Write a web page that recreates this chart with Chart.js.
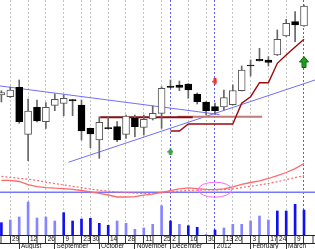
<!DOCTYPE html>
<html>
<head>
<meta charset="utf-8">
<script src="https://cdn.jsdelivr.net/npm/chart.js@4/dist/chart.umd.min.js"></script>
<style>
  html, body { margin: 0; padding: 0; background: #fff; }
</style>
</head>
<body>
<canvas id="chart" width="315" height="249"></canvas>
<script>
// weekly bars (Friday dates), Jul 22 2011 .. Mar 16 2012
const weeks = ['2011-07-22','2011-07-29','2011-08-05','2011-08-12','2011-08-19','2011-08-26','2011-09-02',
  '2011-09-09','2011-09-16','2011-09-23','2011-09-30','2011-10-07','2011-10-14','2011-10-21','2011-10-28',
  '2011-11-04','2011-11-11','2011-11-18','2011-11-25','2011-12-02','2011-12-09','2011-12-16','2011-12-23',
  '2011-12-30','2012-01-06','2012-01-13','2012-01-20','2012-01-27','2012-02-03','2012-02-10','2012-02-17',
  '2012-02-24','2012-03-02','2012-03-09','2012-03-16'];

const open  = [10.5, 10.33, 11.27, 6.57, 9.27, 7.83, 9.47, 9.67, 10.03, 9.5, 7.17, 6.0, 7.2, 7.33, 6.57, 8.17, 7.27, 8.1,
  8.67, 11.4, 11.5, 11.6, 10.6, 9.8, 9.33, 9.3, 9.53, 10.93, 13.47, 14.07, 14.0, 14.5, 16.4, 17.83, 17.4];
const high  = [10.93, 11.3, 12.0, 10.1, 10.0, 9.73, 10.6, 10.5, 10.05, 10.0, 7.2, 8.33, 8.33, 7.83, 8.5, 8.5, 8.5, 9.4,
  11.33, 12.0, 11.9, 11.65, 10.7, 9.85, 9.7, 11.0, 11.5, 13.4, 14.0, 15.17, 14.33, 17.0, 18.07, 18.83, 19.5];
const low   = [9.8, 10.25, 7.67, 3.93, 7.8, 7.17, 8.93, 8.43, 8.43, 6.0, 5.23, 4.17, 7.1, 5.83, 6.17, 6.33, 6.5, 8.0,
  7.17, 11.2, 10.93, 10.17, 9.6, 8.5, 8.55, 9.0, 9.5, 10.9, 12.4, 13.9, 13.4, 14.45, 16.35, 15.83, 17.35];
const close = [10.73, 11.0, 7.83, 8.9, 7.9, 9.27, 10.07, 10.17, 9.9, 6.9, 6.6, 7.77, 7.13, 6.0, 8.4, 7.33, 8.07, 8.67,
  11.17, 11.27, 11.27, 11.0, 9.83, 8.93, 8.93, 10.25, 10.95, 13.0, 13.4, 13.9, 13.77, 16.07, 17.67, 17.5, 19.4];

// volume (millions) and highlighted weeks
const volume = [1.23, 1.5, 1.8, 3.3, 1.7, 1.8, 1.4, 2.23, 1.4, 1.6, 1.67, 1.17, 0.97, 1.4, 1.17, 0.57, 0.7, 1.07,
  2.93, 1.4, 1.07, 0.93, 0.77, 0.05, 0.5, 0.7, 1.07, 1.07, 1.4, 1.9, 1.5, 2.4, 2.4, 3.07, 2.5];
const volHighlight = [1,0,0,0,0,0,0,1,1,1,1,1,1,0,0,0,0,0,0,1,0,1,1,0,1,0,0,0,0,0,0,1,1,1,1];

// lower oscillator: fast and slow averages
const oscFast = [12.0, 11.9, 10.8, 7.7, 5.6, 4.7, 4.1, 3.7, 2.9, 1.8, 0.4, -1.1, -2.7, -4.7, -4.7, -4.4, -2.9, -1.8,
  0.0, 1.7, 3.5, 4.4, 3.6, 2.9, 2.7, 3.4, 5.4, 7.9, 9.8, 11.4, 13.8, 16.6, 19.8, 23.7, 28.8];
const oscSlow = [15.9, 14.9, 14.0, 13.1, 11.9, 10.1, 8.7, 7.4, 6.0, 4.6, 3.3, 2.1, 1.2, 0.3, -0.3, -0.8, -1.1, -1.3,
  -0.4, 0.4, 1.2, 1.8, 2.2, 2.3, 2.3, 2.7, 3.3, 4.7, 6.1, 7.3, 8.8, 10.6, 12.7, 14.7, 16.6];
const oscLevel = 0;

// trailing stop (starts at week 19)
const stopLevel = [null, null, null, null, null, null, null, null, null, null, null, null, null, null, null, null,
  null, null, null, 6.9, 6.9, 7.6, 7.6, 7.6, 7.6, 7.6, 7.6, 9.67, 10.33, 11.73, 11.73, 13.67, 14.5, 15.3, 16.07];

// drawn trend lines: [week, price] end points
const trendDown = [[-0.2, 11.41], [24.5, 8.55]];
const trendUp = [[7.52, 3.77], [35.24, 12.0]];
const support = [[11.1, 8.27], [21.5, 8.27]];
const supportLate = [[19.8, 8.33], [29.3, 8.33]];

// signal arrows
const arrowWeek  = [19, 24, 34];
const arrowPrice = [4.83, 11.83, 13.8];
const arrowKind  = ['buy', 'sell', 'bigBuy'];

// ring mark on oscillator
const ringWeek = 24, ringValue = 2.6, ringHalfWeeks = 1.88, ringHalfValue = 7.5;

// axis labels (one slot per week tick, including one past the last bar)
const dayLabels = ['', '29', '', '12', '', '26', '', '9', '', '23', '30', '', '14', '', '28', '', '11', '', '25', '2',
  '', '16', '', '30', '', '13', '20', '', '3', '', '17', '24', '', '9', '', ''];
const monthLabels = ['', '', 'August', '', '', '', 'September', '', '', '', '', 'October', '', '', '', 'November', '',
  '', '', 'December', '', '', '', '', '2012', '', '', '', 'February', '', '', '', 'March', '', '', ''];
const gridWeeks = [1, 3, 5, 7, 9, 10, 12, 14, 16, 18, 21, 23, 26, 28, 30, 32];
const markerWeeks = [19, 24, 34];

const X_MIN = -0.157, X_MAX = 35.236;
const FONT = { family: '"Liberation Sans", Arial, sans-serif', size: 6.5 };
const weekTicks = dayLabels.map((_, i) => i);

function arrowIcon(w, h, fill, edge, down) {
  const c = document.createElement('canvas');
  c.width = w; c.height = h;
  const g = c.getContext('2d');
  if (down) { g.translate(0, h); g.scale(1, -1); }
  const head = Math.round(h * 0.5), s = Math.max(1, Math.round(w * 0.22));
  g.beginPath();
  g.moveTo(w / 2, 0.5);
  g.lineTo(w - 0.5, head);
  g.lineTo(w / 2 + s, head);
  g.lineTo(w / 2 + s, h - 0.5);
  g.lineTo(w / 2 - s, h - 0.5);
  g.lineTo(w / 2 - s, head);
  g.lineTo(0.5, head);
  g.closePath();
  g.fillStyle = fill;
  g.fill();
  g.strokeStyle = edge;
  g.lineWidth = 1;
  g.stroke();
  return c;
}
const icons = {
  buy: arrowIcon(6, 7, '#3cb043', '#2a8a2a', false),
  sell: arrowIcon(5, 7, '#ff4040', '#e02020', true),
  bigBuy: arrowIcon(10, 12, '#1e9e1e', '#0b6b0b', false)
};

const pts = arr => arr.map(([x, y]) => ({ x, y }));
const series = arr => arr.map((y, i) => ({ x: i, y }));
const up = open.map((o, i) => close[i] >= o);

const ringPlugin = {
  id: 'ring',
  afterDatasetsDraw(chart) {
    const { ctx } = chart;
    const xs = chart.scales.x, ys = chart.scales.yO;
    const cx = xs.getPixelForValue(ringWeek), cy = ys.getPixelForValue(ringValue);
    const rx = Math.abs(xs.getPixelForValue(ringWeek + ringHalfWeeks) - cx);
    const ry = Math.abs(ys.getPixelForValue(ringValue + ringHalfValue) - cy);
    ctx.save();
    ctx.strokeStyle = '#ff66ff';
    ctx.lineWidth = 1;
    ctx.beginPath();
    ctx.ellipse(cx, cy, rx, ry, 0, 0, Math.PI * 2);
    ctx.stroke();
    ctx.restore();
  }
};

const line = (data, color, width, yAxisID, order, dash) => ({
  type: 'line', data, yAxisID, order, borderColor: color, borderWidth: width,
  borderDash: dash || [], pointRadius: 0, fill: false, tension: 0, spanGaps: false
});

const weekAxis = (height, tickLength, padding, labels, grid) => ({
  type: 'linear', axis: 'x', position: 'bottom', min: X_MIN, max: X_MAX, offset: false,
  afterBuildTicks: s => { s.ticks = weekTicks.map(v => ({ value: v })); },
  afterFit: s => { s.height = height; },
  grid: Object.assign({ offset: false, tickLength, tickWidth: 1 }, grid),
  border: { display: true, color: '#222222', dash: [2, 2] },
  ticks: {
    autoSkip: false, maxRotation: 0, minRotation: 0, align: 'start', padding,
    color: '#111111', font: FONT,
    callback: v => labels[v] ? ' ' + labels[v] : ''
  }
});

const gridKind = c => {
  const v = c.tick ? c.tick.value : -1;
  if (markerWeeks.includes(v)) return 'marker';
  if (gridWeeks.includes(v)) return 'grid';
  return '';
};

new Chart(document.getElementById('chart'), {
  type: 'bar',
  data: {
    datasets: [
      {
        label: 'body', data: weeks.map((_, i) => ({ x: i, y: [open[i], close[i]] })), yAxisID: 'yP', order: 4,
        grouped: false, barThickness: 7, minBarLength: 1, borderSkipped: false, borderWidth: 1,
        backgroundColor: up.map(u => u ? '#ffffff' : '#000000'),
        borderColor: up.map(u => u ? '#555555' : '#000000')
      },
      {
        label: 'wick', data: weeks.map((_, i) => ({ x: i, y: [low[i], high[i]] })), yAxisID: 'yP', order: 5,
        grouped: false, barThickness: 1, backgroundColor: '#666666'
      },
      {
        label: 'volume', data: series(volume), yAxisID: 'yV', order: 10,
        grouped: false, barThickness: 2,
        backgroundColor: volHighlight.map(h => h ? '#1010f0' : '#8585ff')
      },
      line(series(oscFast), '#ff6a6a', 1.3, 'yO', 8),
      line(series(oscSlow), '#ff6a6a', 1.2, 'yO', 8, [2, 2]),
      line([{ x: X_MIN - 1, y: oscLevel }, { x: X_MAX + 1, y: oscLevel }], '#7676ff', 1.6, 'yO', 9),
      line(pts(trendDown), '#6f6fff', 1, 'yP', 7),
      line(pts(trendUp), '#6f6fff', 1, 'yP', 7),
      line(pts(support), '#8b0d0d', 2, 'yP', 6),
      line(pts(supportLate), '#c07a7a', 2, 'yP', 6),
      line(series(stopLevel), '#9a0a0a', 1.4, 'yP', 3),
      {
        type: 'line', label: 'signals', data: arrowWeek.map((w, i) => ({ x: w, y: arrowPrice[i] })),
        yAxisID: 'yP', order: 1, showLine: false, pointRadius: 1, pointBorderWidth: 0,
        pointStyle: arrowKind.map(k => icons[k])
      }
    ]
  },
  options: {
    responsive: false,
    animation: false,
    events: [],
    layout: { padding: 0, autoPadding: false },
    plugins: { legend: { display: false }, tooltip: { enabled: false } },
    scales: {
      x: weekAxis(8, 8, -8, dayLabels, {
        color: c => ({ marker: '#5a5aff', grid: '#c4c4c4' })[gridKind(c)] || 'rgba(0,0,0,0)',
        lineWidth: c => gridKind(c) ? 1 : 0,
        tickColor: '#333333'
      }),
      xm: weekAxis(6, 6, -6.7, monthLabels, {
        drawOnChartArea: false,
        tickColor: c => (c.tick && monthLabels[c.tick.value]) ? '#333333' : 'rgba(0,0,0,0)'
      }),
      yP: { type: 'linear', display: false, min: -3.5, max: 20 },
      yO: { type: 'linear', display: false, min: -42.7, max: 192.3 },
      yV: { type: 'linear', display: false, min: 0, max: 23.5 }
    }
  },
  plugins: [ringPlugin]
});
</script>
</body>
</html>
